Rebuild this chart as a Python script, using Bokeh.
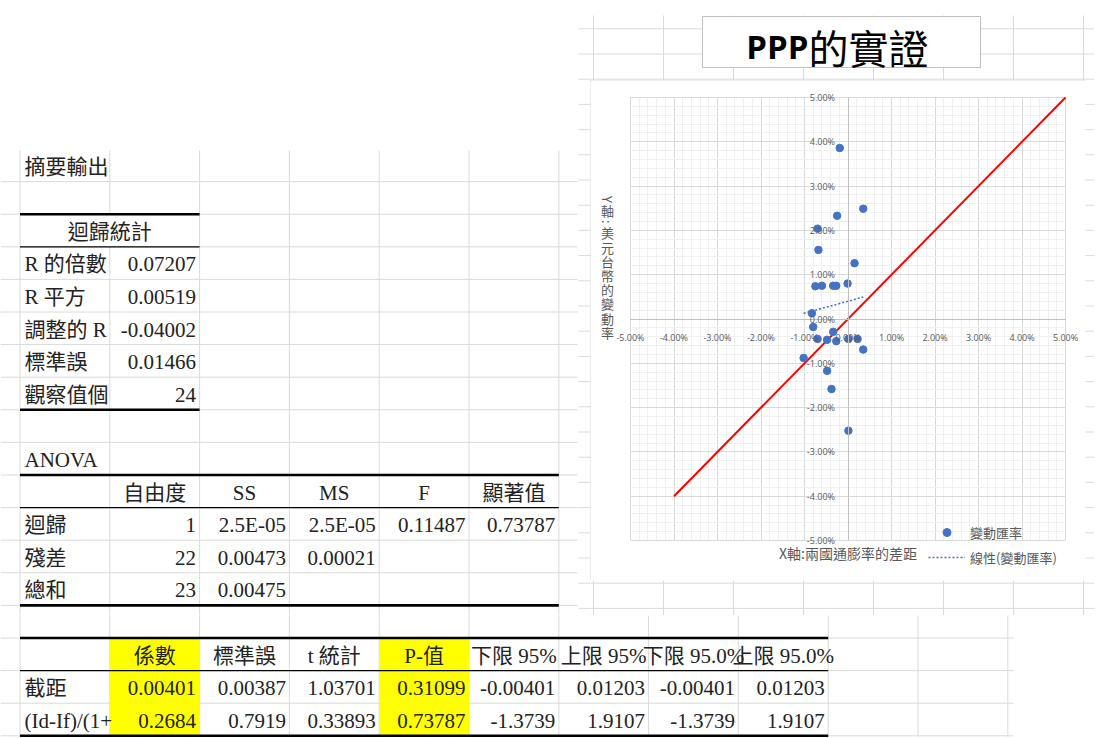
import numpy as np
from bokeh.plotting import figure
from bokeh.layouts import row, column
from bokeh.models import (Range1d, SingleIntervalTicker, NumeralTickFormatter,
                          Legend, LegendItem, Label, ColumnDataSource)
from bokeh.core.properties import value
from bokeh.embed import file_html
from bokeh.resources import INLINE

# ---------------- chart data (percent) ----------------
infl_diff = [-0.19, 0.35, -0.25, -0.70, -0.68, 0.15, -0.75, -0.60, -0.34, -0.27, -0.01, -0.83,
             -0.80, -0.34, -0.70, -0.48, -0.27, 0.01, 0.22, 0.35, -1.02, -0.48, -0.38, 0.01]
fx_change = [3.86, 2.49, 2.33, 2.04, 1.56, 1.26, 0.74, 0.75, 0.75, 0.75, 0.80, 0.13,
             -0.18, -0.29, -0.45, -0.47, -0.50, -0.45, -0.45, -0.69, -0.88, -1.17, -1.58, -2.52]
ppp_line = [-0.04, 0.05]

# ---------------- table data ----------------
summary_title = "摘要輸出"
reg_header = "迴歸統計"
reg_labels = ["R 的倍數", "R 平方", "調整的 R", "標準誤", "觀察值個"]
reg_values = ["0.07207", "0.00519", "-0.04002", "0.01466", "24"]
anova_title = "ANOVA"
anova_cols = ["自由度", "SS", "MS", "F", "顯著值"]
anova_rows = ["迴歸", "殘差", "總和"]
anova_vals = [["1", "2.5E-05", "2.5E-05", "0.11487", "0.73787"],
              ["22", "0.00473", "0.00021", "", ""],
              ["23", "0.00475", "", "", ""]]
coef_cols = ["係數", "標準誤", "t 統計", "P-值", "下限 95%", "上限 95%", "下限 95.0%", "上限 95.0%"]
coef_rows = ["截距", "(Id-If)/(1+"]
coef_vals = [["0.00401", "0.00387", "1.03701", "0.31099", "-0.00401", "0.01203", "-0.00401", "0.01203"],
             ["0.2684", "0.7919", "0.33893", "0.73787", "-1.3739", "1.9107", "-1.3739", "1.9107"]]
chart_title_a = "PPP"
chart_title_b = "的實證"
x_title = "X軸:兩國通膨率的差距"
y_title = "Y軸:美元台幣的變動率"
legend_labels = ["變動匯率", "線性(變動匯率)"]

intercept = float(coef_vals[0][0])
slope = float(coef_vals[1][0])

# ---------------- sheet geometry (page pixel space) ----------------
COL_X0, COL_W = 19.5, 89.8
ROW_Y0, ROW_H = 148.5, 32.6
def X(j): return COL_X0 + COL_W * j
def Y(m): return ROW_Y0 + ROW_H * m
def TY(m): return Y(m) + 17.5

GRID = "#dadada"
segs = []   # (x0, y0, x1, y1, color, width)
for k in range(8):
    segs.append((593 + 70 * k, 15, 593 + 70 * k, 615, GRID, 1))
for k in range(24):
    yy = 28.3 + 25.2 * k
    segs.append((578, yy, 1096, yy, GRID, 1))
for j in range(12):
    xx = X(j)
    if j <= 6:
        if j == 1:
            segs.append((xx, 150, xx, Y(2), GRID, 1))
            segs.append((xx, Y(3), xx, 740, GRID, 1))
        else:
            segs.append((xx, 150, xx, 740, GRID, 1))
    else:
        segs.append((xx, 615, xx, 740, GRID, 1))
for m in range(1, 19):
    yy = Y(m)
    segs.append((0, yy, 577 if yy < 615 else 1013, yy, GRID, 1))

fills = []  # (left, right, top, bottom)
for j in (1, 4):
    fills.append((X(j), X(j + 1), Y(15), Y(18)))

borders = []
TH, TN = 2.6, 1.3
borders += [(X(0), Y(2), X(2), Y(2), "black", TH), (X(0), Y(3), X(2), Y(3), "black", TN),
            (X(0), Y(8), X(2), Y(8), "black", TH)]
borders += [(X(0), Y(10), X(6), Y(10), "black", TH), (X(0), Y(11), X(6), Y(11), "black", TN),
            (X(0), Y(14), X(6), Y(14), "black", TH)]
borders += [(X(0), Y(15), X(9), Y(15), "black", TH), (X(0), Y(16), X(9), Y(16), "black", TN),
            (X(0), Y(18), X(9), Y(18), "black", TH)]

texts = []  # (x, y, text, align)
texts.append((X(0) + 4.5, TY(0), summary_title, "left"))
texts.append(((X(0) + X(2)) / 2, TY(2), reg_header, "center"))
for i, (lab, val) in enumerate(zip(reg_labels, reg_values)):
    texts.append((X(0) + 4.5, TY(3 + i), lab, "left"))
    texts.append((X(2) - 3.5, TY(3 + i), val, "right"))
texts.append((X(0) + 4.5, TY(9), anova_title, "left"))
for j, h in enumerate(anova_cols):
    texts.append(((X(1 + j) + X(2 + j)) / 2, TY(10), h, "center"))
for i, (lab, vals) in enumerate(zip(anova_rows, anova_vals)):
    texts.append((X(0) + 4.5, TY(11 + i), lab, "left"))
    for j, v in enumerate(vals):
        if v:
            texts.append((X(2 + j) - 3.5, TY(11 + i), v, "right"))
for j, h in enumerate(coef_cols):
    texts.append(((X(1 + j) + X(2 + j)) / 2, TY(15), h, "center"))
for i, (lab, vals) in enumerate(zip(coef_rows, coef_vals)):
    texts.append((X(0) + 4.5, TY(16 + i), lab, "left"))
    for j, v in enumerate(vals):
        texts.append((X(2 + j) - 3.5, TY(16 + i), v, "right"))

TABLE_FONT = "Liberation Serif, Noto Sans CJK TC"
CJK = "Noto Sans CJK TC"


def make_sheet(x0, x1, y0, y1):
    p = figure(width=int(round(x1 - x0)), height=int(round(y1 - y0)),
               x_range=Range1d(x0, x1), y_range=Range1d(y1, y0),
               x_axis_location=None, y_axis_location=None,
               output_backend="svg", toolbar_location=None, min_border=0,
               outline_line_color=None, background_fill_color="white",
               border_fill_color="white")
    p.grid.visible = False

    def inside_seg(s):
        return not (max(s[0], s[2]) < x0 or min(s[0], s[2]) > x1 or
                    max(s[1], s[3]) < y0 or min(s[1], s[3]) > y1)
    gs = [s for s in segs if inside_seg(s)]
    if gs:
        p.segment(x0=[s[0] for s in gs], y0=[s[1] for s in gs], x1=[s[2] for s in gs],
                  y1=[s[3] for s in gs], line_color=[s[4] for s in gs], line_width=1)
    fs = [f for f in fills if not (f[1] < x0 or f[0] > x1 or f[3] < y0 or f[2] > y1)]
    if fs:
        p.quad(left=[f[0] for f in fs], right=[f[1] for f in fs], top=[f[2] for f in fs],
               bottom=[f[3] for f in fs], fill_color="#FFFF00", line_color=None)
    bs = [s for s in borders if inside_seg(s)]
    for s in bs:
        p.segment(x0=[s[0]], y0=[s[1]], x1=[s[2]], y1=[s[3]], line_color=s[4], line_width=s[5])
    for al in ("left", "right", "center"):
        ts = [t for t in texts if t[3] == al and x0 <= t[0] <= x1 and y0 <= t[1] <= y1]
        if ts:
            p.text(x=[t[0] for t in ts], y=[t[1] for t in ts], text=[t[2] for t in ts],
                   text_align=al, text_baseline="middle", text_font=value(TABLE_FONT),
                   text_font_size=value("21px"), text_color="#222222")
    return p


# ---------------- sheet pieces ----------------
A = make_sheet(0, 590, 0, 615)
T = make_sheet(590, 1094, 0, 80)
T.quad(left=[702], right=[980], top=[16], bottom=[67], fill_color="white", line_color="#bfbfbf")
T.text(x=[808], y=[46], text=[chart_title_a], text_align="right", text_baseline="middle",
       text_font=value("Open Sans"), text_font_style="bold", text_font_size=value("33px"),
       text_color="black")
T.text(x=[808], y=[46], text=[chart_title_b], text_align="left", text_baseline="middle",
       text_font=value(CJK), text_font_size=value("40px"), text_color="black")
S = make_sheet(1085, 1094, 80, 580)
U = make_sheet(590, 1094, 580, 615)
B = make_sheet(0, 1094, 615, 737)

# ---------------- chart (frame = whole chart area) ----------------
E = 0.0500001
PX_X = 0.10 / 435.0   # data units per pixel, x
PX_Y = 0.10 / 443.0   # data units per pixel, y
X_LO = -0.05 - 40 * PX_X
Y_HI = 0.05 + 17 * PX_Y
c = figure(width=495, height=500,
           x_range=Range1d(X_LO, 0.05 + 20 * PX_X),
           y_range=Range1d(-0.05 - 40 * PX_Y, Y_HI),
           output_backend="svg", toolbar_location=None, min_border=0,
           background_fill_color="white", border_fill_color="white",
           outline_line_color=None)
c.styles = {"outline": "1px solid #d9d9d9", "outline-offset": "-1px"}
ticker = SingleIntervalTicker(interval=0.01, num_minor_ticks=5)
for ax in (c.xaxis[0], c.yaxis[0]):
    ax.ticker = ticker
    ax.formatter = NumeralTickFormatter(format="0.00%")
    ax.fixed_location = 0
    ax.bounds = (-E, E)
    ax.axis_line_color = "#bfbfbf"
    ax.major_tick_line_color = None
    ax.minor_tick_line_color = None
    ax.major_tick_out = 0
    ax.major_tick_in = 0
    ax.major_label_text_font = "Open Sans"
    ax.major_label_text_font_size = "9px"
    ax.major_label_text_color = "#595959"
c.xaxis[0].major_label_standoff = 8
c.yaxis[0].major_label_standoff = 9
for g in (c.xgrid[0], c.ygrid[0]):
    g.ticker = ticker
    g.bounds = (-E, E)
    try:
        g.cross_bounds = (-E, E)
    except AttributeError:
        pass
    g.grid_line_color = "#d9d9d9"
    g.minor_grid_line_color = "#f0f0f0"

src = ColumnDataSource(dict(x=np.array(infl_diff) / 100, y=np.array(fx_change) / 100))
ppp = np.array(ppp_line)
c.line(ppp, ppp, line_color="red", line_width=2)
tx = np.array([min(infl_diff), max(infl_diff)]) / 100
tr = c.line(tx, intercept + slope * tx, line_color="#4472C4", line_width=1.6, line_dash="2 2")
sr = c.scatter("x", "y", source=src, size=7.5, fill_color="#4472C4", line_color="#4472C4")

# x-axis title
c.add_layout(Label(x=0.0, y=-0.05275, text=x_title, text_align="center", text_baseline="middle",
                   text_font=CJK, text_font_size="14px", text_color="#595959"))

# y-axis title: characters stacked vertically (half-width ones rotated)
FULL, HALF = 14.2, 8.0
pos, cur, prev = [], 199.0, None
for ch in y_title:
    adv = HALF if ord(ch) < 128 else FULL
    if prev is not None:
        cur += (prev + adv) / 2
    pos.append(cur)
    prev = adv
ty_data = [Y_HI - (py - 80) * PX_Y for py in pos]
tx_data = [X_LO + (607 - 590) * PX_X] * len(y_title)
angles = [-np.pi / 2 if ord(ch) < 128 else 0.0 for ch in y_title]
c.text(x=tx_data, y=ty_data, text=list(y_title), angle=angles, text_align="center",
       text_baseline="middle", text_font=value(CJK), text_font_size=value("13px"),
       text_color="#595959")

legend = Legend(items=[LegendItem(label=legend_labels[0], renderers=[sr]),
                       LegendItem(label=legend_labels[1], renderers=[tr])],
                location=(338, 13), orientation="vertical", glyph_width=37, glyph_height=20,
                label_height=20, spacing=5, padding=0, margin=0, border_line_color=None,
                background_fill_alpha=0, label_standoff=5, label_text_font=CJK,
                label_text_font_size="13px", label_text_color="#595959")
c.add_layout(legend)

layout = column(row(A, column(T, row(c, S), U)), B)
open("out.html", "w").write(file_html(layout, INLINE))
